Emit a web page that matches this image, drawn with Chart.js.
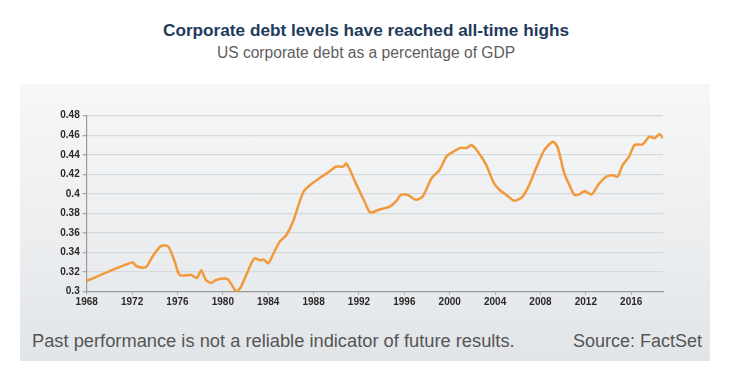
<!DOCTYPE html>
<html>
<head>
<meta charset="utf-8">
<script src="https://cdn.jsdelivr.net/npm/chart.js@4"></script>
<style>
  body { margin: 0; width: 735px; height: 377px; background: #fff; position: relative; overflow: hidden;
         font-family: "Liberation Sans", Arial, sans-serif; }
  .txt { position: absolute; white-space: nowrap; line-height: 1; }
  #title { left: 0; width: 732px; text-align: center; top: 22px; font-size: 17.2px; font-weight: bold; color: #1f3b5c; }
  #sub { left: 0; width: 732px; text-align: center; top: 44.5px; font-size: 15.6px; color: #5e5e5e; }
  #panel { position: absolute; left: 20px; top: 84px; width: 690px; height: 277px;
           background: linear-gradient(to bottom, #f7f7f7 0%, #eceef0 55%, #e2e5e8 100%); }
  #chart { position: absolute; left: 20px; top: 84px; }
  #note { left: 32px; top: 331.5px; font-size: 18.3px; color: #555; }
  #src { left: 573px; top: 331.5px; font-size: 18px; color: #555; }
</style>
</head>
<body>
<div id="title" class="txt">Corporate debt levels have reached all-time highs</div>
<div id="sub" class="txt">US corporate debt as a percentage of GDP</div>
<div id="panel"></div>
<canvas id="chart" width="690" height="236"></canvas>
<div id="note" class="txt">Past performance is not a reliable indicator of future results.</div>
<div id="src" class="txt">Source: FactSet</div>
<script>
// values
var years = [1968.0, 1972.0, 1972.4, 1973.2, 1973.7, 1974.1, 1974.6, 1975.2, 1975.75, 1976.2,
  1977.2, 1977.7, 1978.1, 1978.5, 1979.0, 1979.4, 1980.4, 1981.2, 1981.6, 1982.4,
  1982.8, 1983.3, 1983.6, 1984.0, 1984.4, 1985.0, 1985.6, 1986.2, 1987.1, 1987.9,
  1988.5, 1989.4, 1990.0, 1990.6, 1990.9, 1991.8, 1992.5, 1993.0, 1993.8, 1994.7,
  1995.3, 1995.7, 1996.3, 1997.0, 1997.6, 1998.4, 1999.1, 1999.7, 2000.3, 2000.9,
  2001.5, 2001.9, 2002.5, 2003.2, 2003.9, 2004.4, 2005.0, 2005.7, 2006.4, 2007.0,
  2007.6, 2008.35, 2009.1, 2009.5, 2010.1, 2010.55, 2011.0, 2011.4, 2011.9, 2012.5,
  2013.2, 2013.8, 2014.4, 2014.8, 2015.25, 2015.8, 2016.3, 2017.0, 2017.6, 2018.05,
  2018.5, 2018.8];
var debt = [0.311, 0.330, 0.326, 0.325, 0.334, 0.341, 0.347, 0.346, 0.331, 0.317,
  0.317, 0.314, 0.322, 0.312, 0.309, 0.312, 0.313, 0.300, 0.305, 0.326,
  0.334, 0.332, 0.333, 0.329, 0.3375, 0.351, 0.358, 0.372, 0.402, 0.411,
  0.416, 0.423, 0.428, 0.428, 0.431, 0.409, 0.392, 0.381, 0.384, 0.387,
  0.393, 0.399, 0.399, 0.394, 0.397, 0.416, 0.4245, 0.438, 0.443, 0.447,
  0.447, 0.450, 0.443, 0.430, 0.411, 0.404, 0.399, 0.393, 0.397, 0.409,
  0.426, 0.445, 0.4534, 0.448, 0.421, 0.409, 0.399, 0.3995, 0.403, 0.3995,
  0.411, 0.4176, 0.419, 0.4176, 0.4296, 0.438, 0.450, 0.4507, 0.4585, 0.457,
  0.461, 0.457];
var xTicks = [1968, 1972, 1976, 1980, 1984, 1988, 1992, 1996, 2000, 2004, 2008, 2012, 2016];
var yMin = 0.3, yMax = 0.48, yStep = 0.02;

var points = [];
for (var i = 0; i < years.length; i++) {
  points.push({ x: years[i], y: debt[i] });
}

var tickFont = { family: "Liberation Sans, Arial, sans-serif", size: 10, weight: "bold" };

new Chart(document.getElementById("chart"), {
  type: "line",
  data: {
    datasets: [{
      data: points,
      borderColor: "#f2993a",
      borderWidth: 2.5,
      pointRadius: 0,
      tension: 0.25,
      fill: false
    }]
  },
  options: {
    responsive: false,
    animation: false,
    layout: { padding: { top: 31.7, right: 47, left: 0, bottom: 0 } },
    plugins: { legend: { display: false }, tooltip: { enabled: false } },
    scales: {
      x: {
        type: "linear",
        min: 1968,
        max: 2018.8,
        afterBuildTicks: function (scale) {
          scale.ticks = xTicks.map(function (v) { return { value: v }; });
        },
        afterFit: function (scale) { scale.height = 28.3; },
        ticks: { font: tickFont, color: "#2a2a2a", padding: 2, maxRotation: 0, autoSkip: false,
          callback: function (v) { return String(v); } },
        grid: { drawOnChartArea: false, drawTicks: true, tickLength: 3, color: "#a8a8a8" },
        border: { color: "#9a9a9a", width: 1.2 }
      },
      y: {
        min: yMin,
        max: yMax,
        afterFit: function (scale) { scale.width = 66.7; },
        ticks: { stepSize: yStep, font: tickFont, color: "#2a2a2a", padding: 3,
          callback: function (v) { return String(parseFloat(v.toFixed(2))); } },
        grid: { color: "#d6d9dc", lineWidth: 1.3, tickLength: 4, tickColor: "#a8a8a8" },
        border: { color: "#9a9a9a", width: 1.2 }
      }
    }
  }
});
</script>
</body>
</html>
